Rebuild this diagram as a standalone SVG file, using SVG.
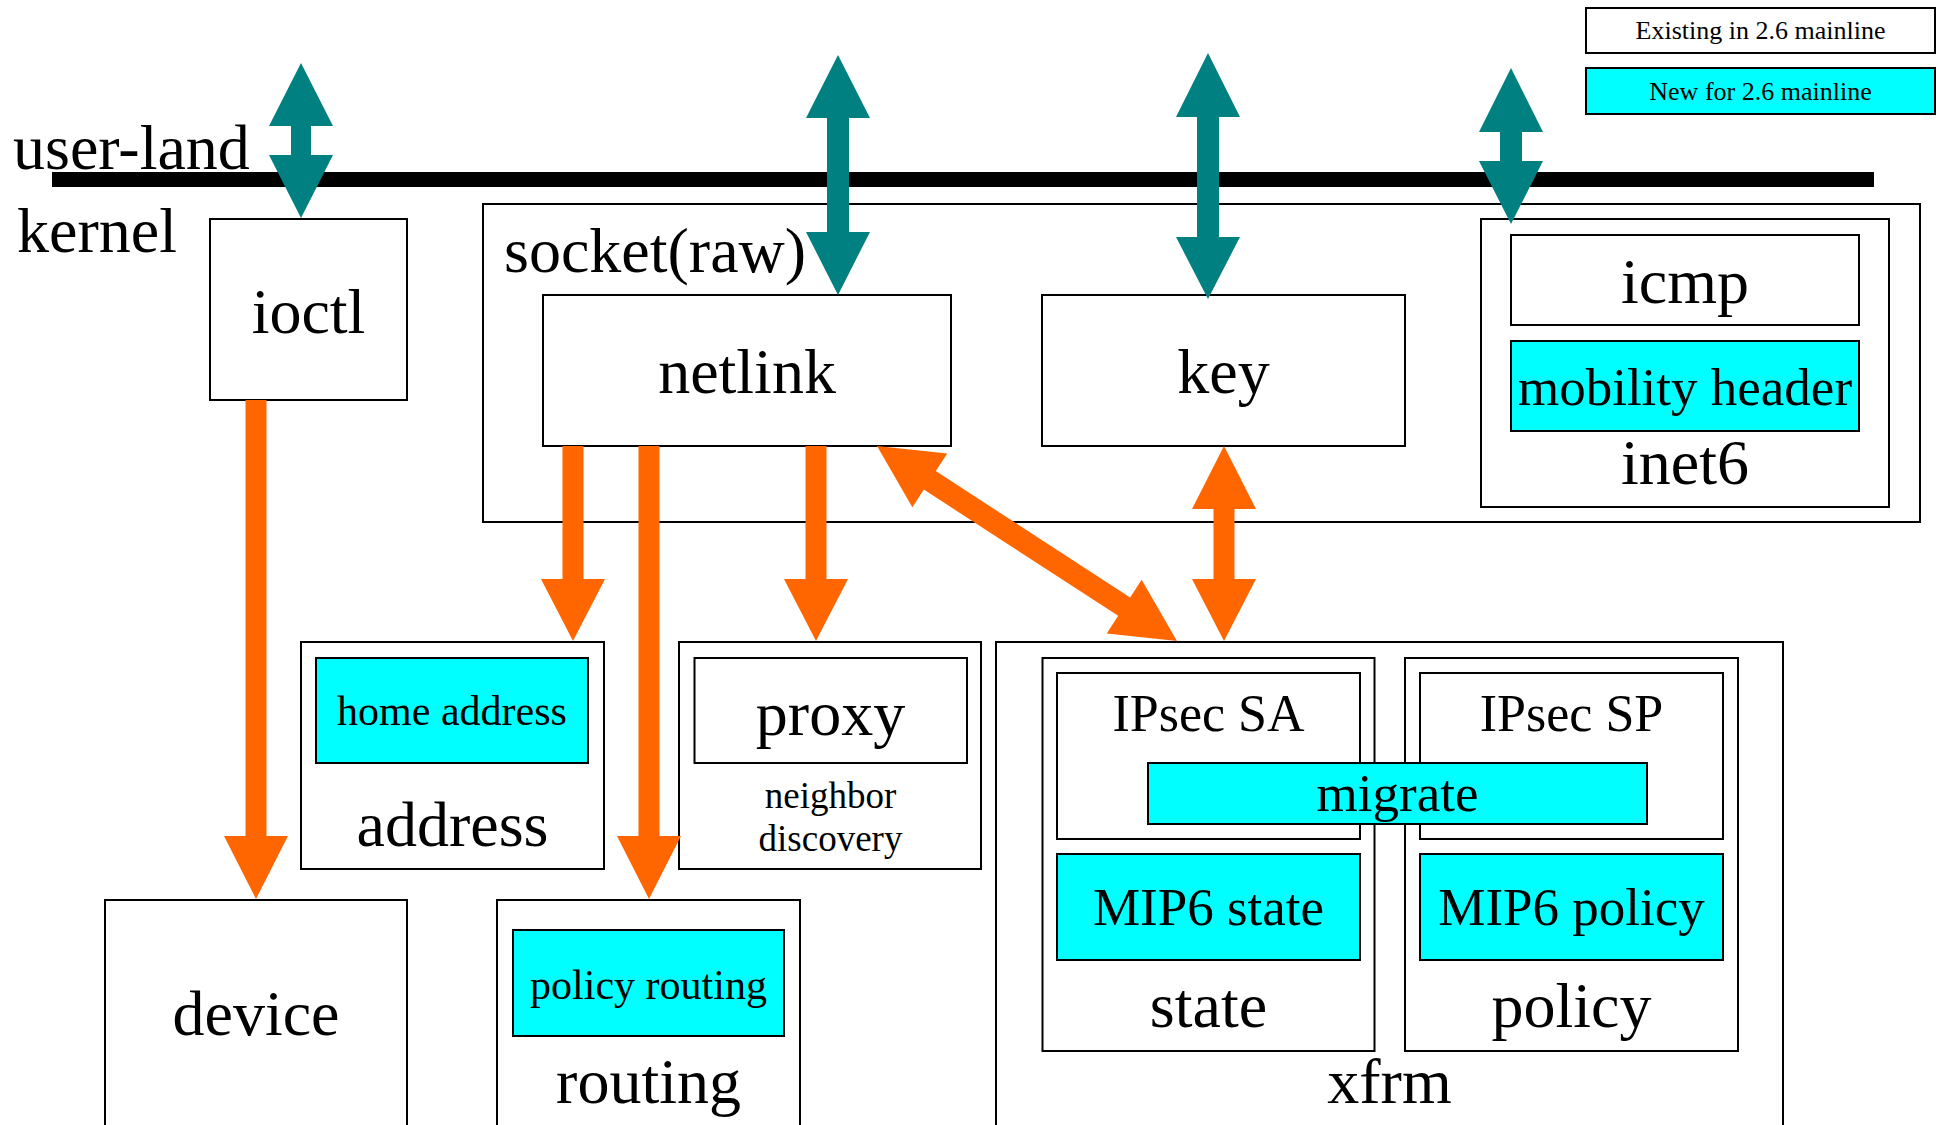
<svg xmlns="http://www.w3.org/2000/svg" width="1941" height="1125" viewBox="0 0 1941 1125">
<style>
  .box { fill: #ffffff; stroke: #000000; stroke-width: 2; }
  .new { fill: #00ffff; stroke: #000000; stroke-width: 2; }
  .t { font-family: "Liberation Serif", "Times New Roman", serif; fill: #000000; text-anchor: middle; }
  .big { font-size: 64px; }
  .mid { font-size: 53px; }
  .sml { font-size: 42px; }
  .teal { fill: #008080; }
  .orange { fill: #ff6600; }
</style>
<rect width="1941" height="1125" fill="#ffffff"/>

<g id="legend">
  <rect class="box" x="1586" y="8" width="349" height="45"/>
  <text class="t" x="1760.5" y="39" font-size="26">Existing in 2.6 mainline</text>
  <rect class="new" x="1586" y="68" width="349" height="46"/>
  <text class="t" x="1760.5" y="100" font-size="26">New for 2.6 mainline</text>
</g>

<g id="boundary">
  <rect x="52" y="172" width="1822" height="15" fill="#000000"/>
  <text class="t big" x="13" y="169" style="text-anchor:start">user-land</text>
  <text class="t big" x="17" y="252" style="text-anchor:start">kernel</text>
</g>

<g id="ioctl">
  <rect class="box" x="210" y="219" width="197" height="181"/>
  <text class="t big" x="308.5" y="333">ioctl</text>
</g>

<g id="socket">
  <rect class="box" x="483" y="204" width="1437" height="318"/>
  <text class="t big" x="504" y="272" style="text-anchor:start">socket(raw)</text>
</g>

<g id="netlink">
  <rect class="box" x="543" y="295" width="408" height="151"/>
  <text class="t big" x="747" y="393">netlink</text>
</g>

<g id="key">
  <rect class="box" x="1042" y="295" width="363" height="151"/>
  <text class="t big" x="1223.5" y="393">key</text>
</g>

<g id="inet6">
  <rect class="box" x="1481" y="219" width="408" height="288"/>
  <text class="t big" x="1685" y="484">inet6</text>
</g>
<g id="icmp">
  <rect class="box" x="1511" y="235" width="348" height="90"/>
  <text class="t big" x="1685" y="303">icmp</text>
</g>
<g id="mobility-header">
  <rect class="new" x="1511" y="341" width="348" height="90"/>
  <text class="t mid" x="1685" y="405">mobility header</text>
</g>

<g id="address">
  <rect class="box" x="301" y="642" width="303" height="227"/>
  <text class="t big" x="452.5" y="846">address</text>
</g>
<g id="home-address">
  <rect class="new" x="316" y="658" width="272" height="105"/>
  <text class="t sml" x="452" y="725">home address</text>
</g>

<g id="neighbor-discovery">
  <rect class="box" x="679" y="642" width="302" height="227"/>
  <text class="t" x="830.5" y="808" font-size="37">neighbor</text>
  <text class="t" x="830.5" y="851" font-size="37">discovery</text>
</g>
<g id="proxy">
  <rect class="box" x="694.5" y="658" width="272.5" height="105"/>
  <text class="t big" x="830.5" y="735">proxy</text>
</g>

<g id="device">
  <rect class="box" x="105" y="900" width="302" height="240"/>
  <text class="t big" x="256" y="1035">device</text>
</g>

<g id="routing">
  <rect class="box" x="497" y="900" width="303" height="240"/>
  <text class="t big" x="648.5" y="1103">routing</text>
</g>
<g id="policy-routing">
  <rect class="new" x="513" y="930" width="271" height="106"/>
  <text class="t sml" x="648.5" y="999">policy routing</text>
</g>

<g id="xfrm">
  <rect class="box" x="996" y="642" width="787" height="500"/>
  <text class="t big" x="1389.5" y="1103">xfrm</text>
</g>
<g id="state">
  <rect class="box" x="1042.5" y="658" width="332" height="393"/>
  <text class="t big" x="1208.5" y="1027">state</text>
</g>
<g id="policy">
  <rect class="box" x="1405" y="658" width="333" height="393"/>
  <text class="t big" x="1571.5" y="1027">policy</text>
</g>
<g id="ipsec-sa">
  <rect class="box" x="1057" y="673" width="303" height="166"/>
  <text class="t" x="1208.5" y="731" font-size="52">IPsec SA</text>
</g>
<g id="ipsec-sp">
  <rect class="box" x="1420" y="673" width="303" height="166"/>
  <text class="t" x="1571.5" y="731" font-size="52">IPsec SP</text>
</g>
<g id="migrate">
  <rect class="new" x="1148" y="763" width="499" height="61"/>
  <text class="t mid" x="1397.5" y="811">migrate</text>
</g>
<g id="mip6-state">
  <rect class="new" x="1057" y="854" width="303" height="106"/>
  <text class="t mid" x="1208.5" y="925">MIP6 state</text>
</g>
<g id="mip6-policy">
  <rect class="new" x="1420" y="854" width="303" height="106"/>
  <text class="t mid" x="1571.5" y="925">MIP6 policy</text>
</g>

<g id="connectors">
  <polygon class="teal" points="301,63 333,126 311,126 311,155 333,155 301,218 269,155 291,155 291,126 269,126"/>
  <polygon class="teal" points="838,55 870,118 849,118 849,232 870,232 838,295 806,232 827,232 827,118 806,118"/>
  <polygon class="teal" points="1208,53 1240,117 1219,117 1219,237 1240,237 1208,299 1176,237 1197,237 1197,117 1176,117"/>
  <polygon class="teal" points="1511,68 1543,132 1522,132 1522,161 1543,161 1511,224 1479,161 1500,161 1500,132 1479,132"/>
  <polygon class="orange" points="245.5,400 266.5,400 266.5,836 288,836 256,899 224,836 245.5,836"/>
  <polygon class="orange" points="562.5,446 583.5,446 583.5,579 605,579 573,641 541,579 562.5,579"/>
  <polygon class="orange" points="638.5,446 659.5,446 659.5,836 681,836 649,899 617,836 638.5,836"/>
  <polygon class="orange" points="805.5,446 826.5,446 826.5,579 848,579 816,641 784,579 805.5,579"/>
  <polygon class="orange" points="1224,446 1256,509 1234.5,509 1234.5,579 1256,579 1224,641 1192,579 1213.5,579 1213.5,509 1192,509"/>
  <polygon class="orange" transform="translate(877,446) rotate(33.02)" points="0,0 63,-32 63,-11 294.8,-11 294.8,-32 357.8,0 294.8,32 294.8,11 63,11 63,32"/>
</g>
</svg>
